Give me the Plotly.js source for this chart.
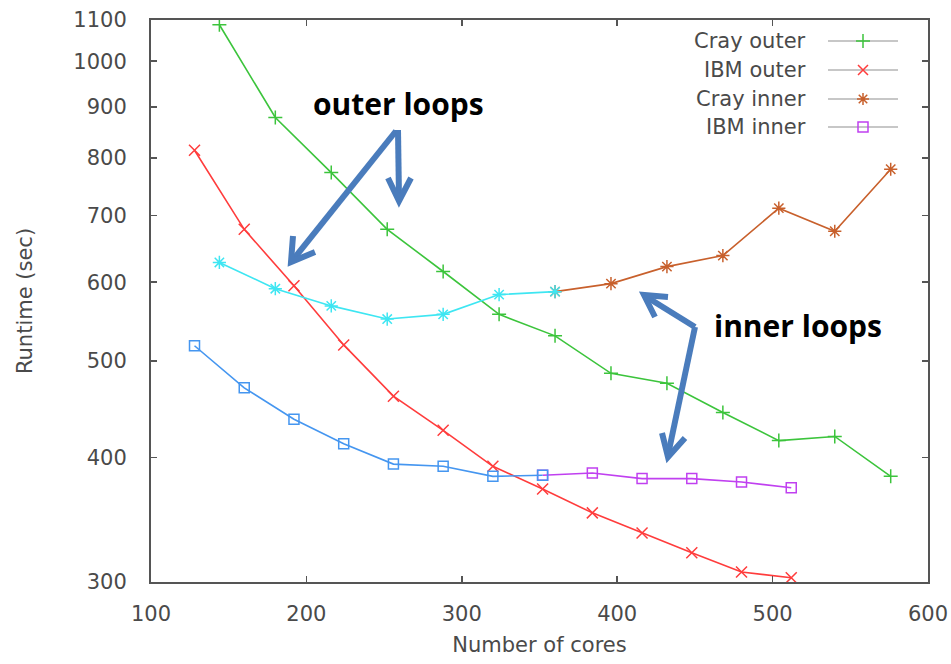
<!DOCTYPE html>
<html>
<head>
<meta charset="utf-8">
<script src="https://cdn.plot.ly/plotly-3.0.1.min.js"></script>
<style>html,body{margin:0;padding:0;background:#fff;}#chart{width:951px;height:664px;}</style>
</head>
<body>
<div id="chart"></div>
<script>
// ---- data ----
const crayCores = [144, 180, 216, 252, 288, 324, 360, 396, 432, 468, 504, 540, 576];
const crayOuter = [1088, 878, 773, 678, 615, 557, 530, 486, 475, 444, 416, 420, 383];
const crayInner = [628, 591, 568, 551, 557, 583, 587, 598, 622, 638, 712, 675, 779];
const ibmCores  = [128, 160, 192, 224, 256, 288, 320, 352, 384, 416, 448, 480, 512];
const ibmOuter  = [814, 678, 595, 519, 461, 426, 392, 372, 352, 336, 321, 307, 303];
const ibmInner  = [518, 470, 437, 413, 394, 392, 383, 384, 386, 381, 381, 378, 373];
const seriesNames = ["Cray outer", "IBM outer", "Cray inner", "IBM inner"];
const yTicks = [300, 400, 500, 600, 700, 800, 900, 1000, 1100];
const xTicks = [100, 200, 300, 400, 500, 600];
const splitCray = 6;   // index where the highlighted (cyan) part ends
const splitIbm = 7;    // index where the highlighted (blue) part ends

// ---- styles ----
const C = {green:'#3cc43c', red:'#ff3c3c', brown:'#c8602c', purple:'#c040f0', cyan:'#3ee6f2', blue:'#4596f0', arrow:'#4a7cbc', axis:'#555555', text:'#4a4a4a'};
const LW = 1.6;
const FONT = 'DejaVu Sans, Arial, sans-serif';

// plot area in pixels
const L = 151, R = 928, T = 20, B = 582;
const px = x => (x - L) / (R - L);
const py = y => (B - y) / (B - T);

function series(x, y, color, symbol, size) {
  return {x: x, y: y, type: 'scatter', mode: 'lines+markers', showlegend: false,
    line: {color: color, width: LW},
    marker: {symbol: symbol, size: size, color: color, line: {color: color, width: 1.5}}};
}

const traces = [
  series(crayCores, crayOuter, C.green, 'cross-thin', 10),
  series(ibmCores, ibmOuter, C.red, 'x-thin', 11),
  series(crayCores.slice(splitCray), crayInner.slice(splitCray), C.brown, 'asterisk-open', 11),
  series(crayCores.slice(0, splitCray + 1), crayInner.slice(0, splitCray + 1), C.cyan, 'asterisk-open', 11),
  series(ibmCores.slice(splitIbm), ibmInner.slice(splitIbm), C.purple, 'square-open', 10),
  series(ibmCores.slice(0, splitIbm + 1), ibmInner.slice(0, splitIbm + 1), C.blue, 'square-open', 10)
];

// custom legend (text on left, grey line with coloured marker on right)
const legColors = [C.green, C.red, C.brown, C.purple];
const legSymbols = ['cross-thin', 'x-thin', 'asterisk-open', 'square-open'];
const legRowsPx = [41, 70, 99, 127];
const annotations = [];
legRowsPx.forEach((ry, i) => {
  traces.push({x: [px(828), px(898)], y: [py(ry), py(ry)], xaxis: 'x2', yaxis: 'y2', type: 'scatter', mode: 'lines',
    line: {color: '#909090', width: 1.2}, showlegend: false, hoverinfo: 'skip'});
  traces.push({x: [px(863)], y: [py(ry)], xaxis: 'x2', yaxis: 'y2', type: 'scatter', mode: 'markers',
    marker: {symbol: legSymbols[i], size: 10, color: legColors[i], line: {color: legColors[i], width: 1.5}},
    showlegend: false, hoverinfo: 'skip'});
  annotations.push({xref: 'paper', yref: 'paper', x: px(808), y: py(ry), xanchor: 'right', yanchor: 'middle',
    text: seriesNames[i], showarrow: false, font: {family: FONT, size: 21, color: C.text}});
});

annotations.push({xref: 'paper', yref: 'paper', x: px(398), y: py(103), xanchor: 'center', yanchor: 'middle',
  text: '<b>outer loops</b>', showarrow: false, font: {family: 'Open Sans, sans-serif', size: 30, color: '#000'}});
annotations.push({xref: 'paper', yref: 'paper', x: px(798), y: py(325), xanchor: 'center', yanchor: 'middle',
  text: '<b>inner loops</b>', showarrow: false, font: {family: 'Open Sans, sans-serif', size: 30, color: '#000'}});

// arrows drawn as paths (pixel points -> paper coords)
function P(pts) { return pts.map((p, i) => (i ? 'L' : 'M') + px(p[0]).toFixed(5) + ',' + py(p[1]).toFixed(5)).join(' '); }
const arrowPaths = [
  [[396,131],[292,261]], [[293,236],[291,262],[315,252]],
  [[398,130],[399,199]], [[388,178],[399,201],[411,178]],
  [[695,327],[645,296]], [[668,297],[644,295],[655,317]],
  [[695,327],[668,455]], [[662,433],[668,457],[685,438]]
];
const shapes = arrowPaths.map(pts => ({type: 'path', xref: 'paper', yref: 'paper', path: P(pts),
  line: {color: C.arrow, width: 6}}));

const layout = {
  width: 951, height: 664,
  margin: {l: L, r: 951 - R, t: T, b: 664 - B},
  paper_bgcolor: '#fff', plot_bgcolor: '#fff',
  showlegend: false,
  font: {family: FONT, color: C.text},
  xaxis: {range: [100, 600], tickvals: xTicks, ticktext: xTicks.map(String),
    ticks: 'inside', ticklen: 6, tickwidth: 1.5, tickcolor: C.axis,
    showline: true, linecolor: C.axis, linewidth: 2, mirror: 'ticks', showgrid: false, zeroline: false,
    tickfont: {family: FONT, size: 21, color: C.text}, ticklabelstandoff: 12,
    title: {text: 'Number of cores', font: {family: FONT, size: 21, color: C.text}, standoff: 12}},
  yaxis: {type: 'log', range: [Math.log10(300), Math.log10(1100)], tickvals: yTicks, ticktext: yTicks.map(String),
    ticks: 'inside', ticklen: 6, tickwidth: 1.5, tickcolor: C.axis,
    showline: true, linecolor: C.axis, linewidth: 2, mirror: 'ticks', showgrid: false, zeroline: false,
    tickfont: {family: FONT, size: 21, color: C.text}, ticklabelstandoff: 18,
    title: {text: 'Runtime (sec)', font: {family: FONT, size: 21, color: C.text}, standoff: 35}},
  xaxis2: {range: [0, 1], overlaying: 'x', visible: false, fixedrange: true},
  yaxis2: {range: [0, 1], overlaying: 'y', visible: false, fixedrange: true},
  annotations: annotations,
  shapes: shapes
};

Plotly.newPlot('chart', traces, layout, {displayModeBar: false, staticPlot: true});
</script>
</body>
</html>
